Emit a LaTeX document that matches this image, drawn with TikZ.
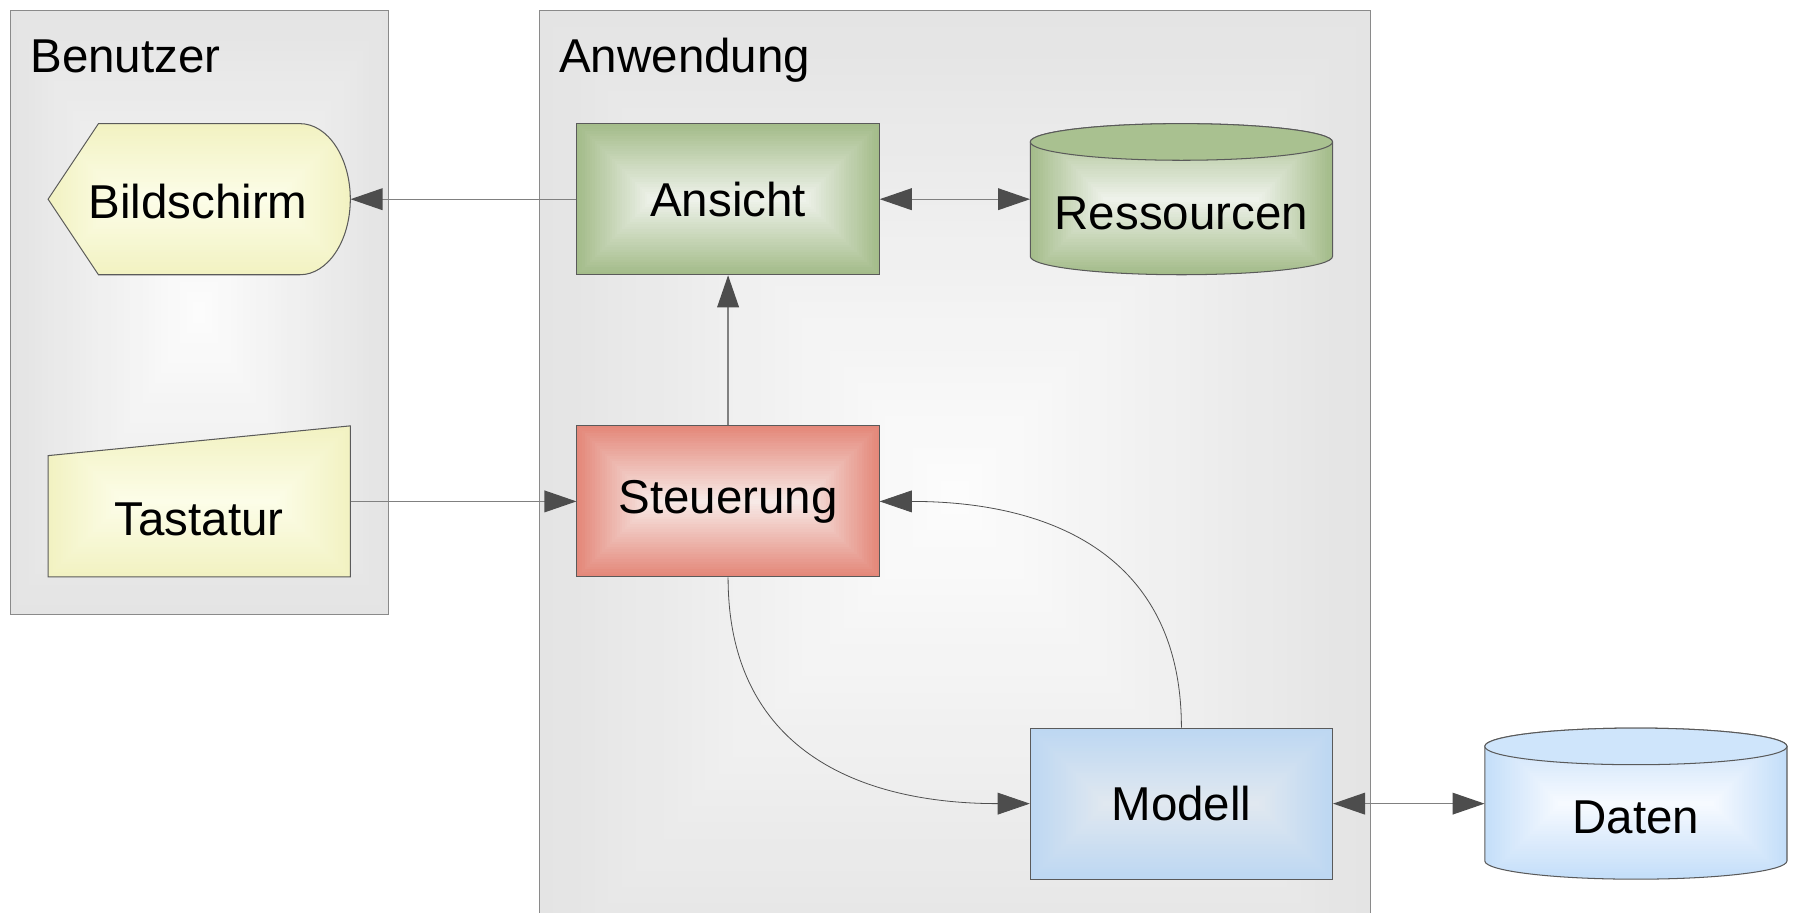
\documentclass[tikz,border=0pt]{standalone}
\usepackage{fontspec}
\setmainfont{Liberation Sans}
\usetikzlibrary{arrows.meta,calc}
\definecolor{framecol}{HTML}{8A8A8A}
\definecolor{bordercol}{HTML}{5A5A5A}
\definecolor{conncol}{HTML}{808080}
\definecolor{curvecol}{HTML}{4F4F4F}
\definecolor{tipcol}{HTML}{4D4D4D}
\definecolor{contedge}{HTML}{E4E4E4}
\definecolor{contcen}{HTML}{FCFCFC}
\definecolor{yedge}{HTML}{F2F2C2}
\definecolor{ycen}{HTML}{FCFDE8}
\definecolor{gedge}{HTML}{A4BC8A}
\definecolor{gcen}{HTML}{EEF2EA}
\definecolor{gtop}{HTML}{A9C190}
\definecolor{redge}{HTML}{E4887A}
\definecolor{rcen}{HTML}{F7E9E6}
\definecolor{bedge}{HTML}{BDD7F2}
\definecolor{bcen}{HTML}{E0E8F0}
\definecolor{dedge}{HTML}{C4DEF9}
\definecolor{dcen}{HTML}{F6FAFF}
\definecolor{dtop}{HTML}{CFE5FB}
% nested rectangles: #1 edge colour, #2 centre colour, #3 / #4 maximal x / y inset
\newcommand\pyrfill[4]{%
  \foreach \i in {0,...,29}{%
    \pgfmathtruncatemacro\pp{100*\i/29}%
    \pgfmathsetmacro\ddx{#3*\i/30}%
    \pgfmathsetmacro\ddy{#4*\i/30}%
    \fill[fill={#2!\pp!#1}] ([shift={(\ddx pt,\ddy pt)}]path picture bounding box.south west) rectangle ([shift={(-\ddx pt,-\ddy pt)}]path picture bounding box.north east);
  }}
\tikzset{
  every node/.style={font=\fontsize{41.5}{48}\selectfont, text=black},
  boxnode/.style={draw=bordercol, line width=0.9pt, minimum width=264pt, minimum height=132pt, inner sep=0pt},
  ghost/.style={minimum width=264pt, minimum height=132pt, inner sep=0pt},
  shapeline/.style={draw=bordercol, line width=0.9pt},
  frame/.style={draw=framecol, line width=1pt},
  conn/.style={draw=conncol, line width=1.1pt},
  curveconn/.style={draw=curvecol, line width=0.7pt},
  >={Triangle[length=28pt,width=19pt,color=tipcol]}
}
\begin{document}
\begin{tikzpicture}[x=1pt,y=-1pt]
\useasboundingbox (0,0) rectangle (1568,797);
\fill[white] (0,0) rectangle (1568,797);
\clip (0,0) rectangle (1568,797);
% containers
\path[frame, path picture={\pyrfill{contedge}{contcen}{165}{264}}] (9,9) rectangle (339,537);
\path[frame, path picture={\pyrfill{contedge}{contcen}{363}{425}}] (471,9) rectangle (1197,860);
\node[anchor=base west] (tben) at (23,63) {Benutzer};
\node[anchor=base west] (tanw) at (485,63) {Anwendung};
% Bildschirm (display shape)
\path[shapeline, path picture={\pyrfill{yedge}{ycen}{66}{66}}]
  (42,174) -- (86,108) -- (262,108)
  arc[start angle=90, end angle=-90, x radius=44pt, y radius=66pt]
  -- (86,240) -- cycle;
\node[ghost] (bild) at (174,174) {};
\node (bildtext) at (173,176) {Bildschirm};
% Tastatur (manual input)
\path[shapeline, path picture={\pyrfill{yedge}{ycen}{66}{66}}]
  (42,504) -- (42,398) -- (306,372) -- (306,504) -- cycle;
\node[ghost] (tast) at (174,438) {};
\node (tasttext) at (174,454) {Tastatur};
% Ressourcen (cylinder)
\path[shapeline, path picture={\pyrfill{gedge}{gcen}{66}{66}}]
  (900,124) -- (900,224) arc[start angle=180, end angle=360, x radius=132pt, y radius=16pt]
  -- (1164,124) arc[start angle=0, end angle=180, x radius=132pt, y radius=16pt] -- cycle;
\fill[gtop] (1032,124) ellipse[x radius=132pt, y radius=16pt];
\draw[shapeline] (900,124) arc[start angle=180, end angle=360, x radius=132pt, y radius=16pt]
  arc[start angle=0, end angle=180, x radius=132pt, y radius=16pt];
\node[ghost] (res) at (1032,174) {};
\node (restext) at (1032,186) {Ressourcen};
% Daten (cylinder)
\path[shapeline, path picture={\pyrfill{dedge}{dcen}{66}{66}}]
  (1297,652) -- (1297,752) arc[start angle=180, end angle=360, x radius=132pt, y radius=16pt]
  -- (1561,652) arc[start angle=0, end angle=180, x radius=132pt, y radius=16pt] -- cycle;
\fill[dtop] (1429,652) ellipse[x radius=132pt, y radius=16pt];
\draw[shapeline] (1297,652) arc[start angle=180, end angle=360, x radius=132pt, y radius=16pt]
  arc[start angle=0, end angle=180, x radius=132pt, y radius=16pt];
\node[ghost] (daten) at (1429,702) {};
\node (datentext) at (1429,714) {Daten};
% boxes
\node[boxnode, path picture={\pyrfill{gedge}{gcen}{66}{66}}] (ansicht) at (636,174) {Ansicht};
\node[boxnode, path picture={\pyrfill{redge}{rcen}{66}{66}}] (steu) at (636,438) {\raisebox{-3pt}{Steuerung}};
\node[boxnode, path picture={\pyrfill{bedge}{bcen}{66}{66}}] (modell) at (1032,702) {\raisebox{-2pt}{Modell}};
% connectors
\draw[conn, ->] (ansicht.west) -- (bild.east);
\draw[conn, ->] (tast.east) -- (steu.west);
\draw[conn, ->] (steu.north) -- (ansicht.south);
\draw[conn, <->] (ansicht.east) -- (res.west);
\draw[conn, <->] (modell.east) -- (daten.west);
\draw[curveconn, ->] (steu.south) .. controls +(0,150) and +(-150,0) .. (modell.west);
\draw[curveconn, ->] (modell.north) .. controls +(0,-150) and +(150,0) .. (steu.east);
\end{tikzpicture}
\end{document}
